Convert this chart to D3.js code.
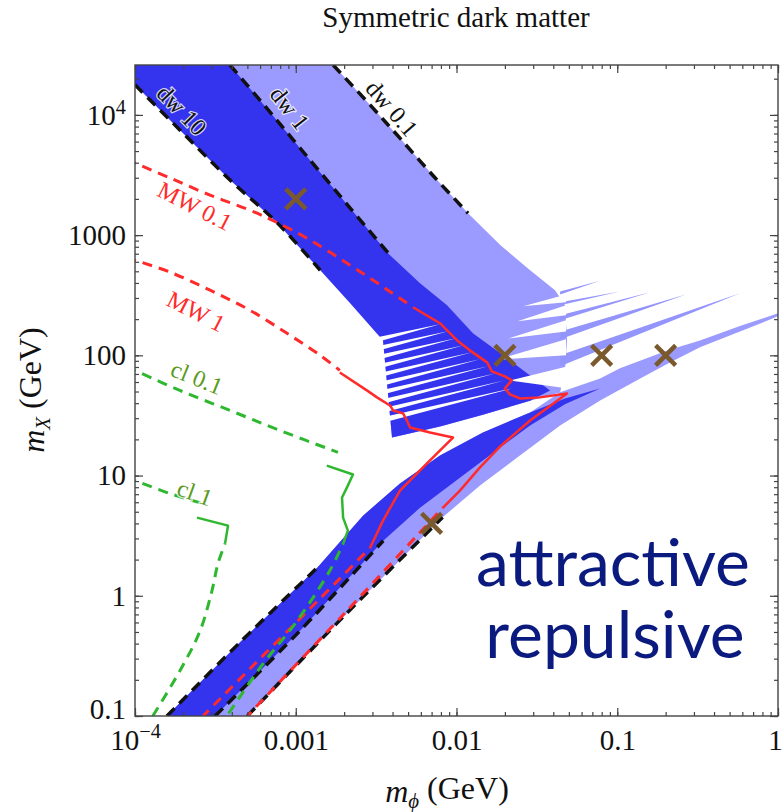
<!DOCTYPE html>
<html>
<head>
<meta charset="utf-8">
<script src="https://d3js.org/d3.v7.min.js"></script>
<style>
  body { margin: 0; background: #fff; }
</style>
</head>
<body>
<div id="chart"><svg width="782" height="812"></svg></div>
<script>
// all values are [m_phi (GeV), m_X (GeV)]
var xTicks = [1e-4, 1e-3, 1e-2, 0.1, 1];
var yTicks = [0.1, 1, 10, 100, 1000, 1e4];

// attractive branch (upper band)
var attrDw10 = [[1.0e-4,1.78e4],[1.9e-4,7.5e3],[3.9e-4,2.87e3],[7.6e-4,1.28e3],[1.42e-3,510]];
var attrDw1  = [[3.9e-4,2.6e4],[6.9e-4,1.06e4],[1.23e-3,4.2e3],[2.18e-3,1.68e3],[3.86e-3,680]];
var attrDw01 = [[1.71e-3,2.6e4],[2.9e-3,1.21e4],[4.45e-3,6.4e3],[7.35e-3,3.0e3],[1.18e-2,1.52e3]];
var attrDarkRight = [[5.93e-3,398],[8.73e-3,261],[1.27e-2,152],[1.95e-2,100],[2.87e-2,68],[3.82e-2,51]];
var attrDarkLower = [[2.87e-2,42],[1.46e-2,32],[7.9e-3,25.6],[3.97e-3,20.7],[3.49e-3,133],[2.18e-3,271]];
var attrLightRight = [[1.87e-2,826],[2.87e-2,511],[4.1e-2,348],[4.73e-2,261],[4.87e-2,133],[4.73e-2,75],[4.41e-2,49]];

// resonance streaks and the white gaps between them
var fanStreaks = [
  [[4.41e-2,339],[7.8e-2,418],[4.41e-2,320]],
  [[4.41e-2,276],[0.104,340],[4.41e-2,261]],
  [[4.41e-2,215],[0.16,335],[4.41e-2,196]],
  [[4.41e-2,158],[0.27,322],[4.41e-2,136]],
  [[4.41e-2,100],[0.58,329],[4.41e-2,81]]
];
var darkGaps = [
  [[3.0e-3,138.6],[7.89e-3,181.3],[3.0e-3,125.9]],
  [[3.0e-3,116.6],[8.86e-3,158.5],[3.0e-3,105.9]],
  [[3.0e-3,98.1],[9.93e-3,138.6],[3.0e-3,89.1]],
  [[3.0e-3,82.5],[1.11e-2,121.2],[3.0e-3,75.0]],
  [[3.0e-3,69.4],[1.25e-2,105.9],[3.0e-3,63.1]],
  [[3.0e-3,58.4],[1.40e-2,92.6],[3.0e-3,53.1]],
  [[3.0e-3,49.2],[1.57e-2,81.0],[3.0e-3,44.7]],
  [[3.0e-3,41.4],[1.76e-2,70.8],[3.0e-3,37.6]],
  [[3.0e-3,34.8],[1.98e-2,61.9],[3.0e-3,31.6]],
  [[3.0e-3,29.3],[2.21e-2,53.1],[3.0e-3,26.1]]
];
var lightGaps = [
  [[4.8e-2,320],[4.8e-2,276],[2.6e-2,256]],
  [[4.8e-2,261],[4.8e-2,215],[2.4e-2,192]],
  [[4.8e-2,196],[4.8e-2,158],[2.1e-2,138]],
  [[4.8e-2,136],[4.8e-2,100],[1.8e-2,92]],
  [[4.94e-2,81],[4.94e-2,53.1],[2.15e-2,61.9]]
];

// repulsive branch (lower band)
var repDw10 = [[1.58e-4,0.1],[4.5e-4,0.41],[1.36e-3,1.71]];
var repDw1  = [[3.15e-4,0.1],[1.06e-3,0.51],[3.5e-3,2.87]];
var repDw01 = [[5.0e-4,0.1],[2.0e-3,0.68],[8.2e-3,4.5]];
var repDarkUpper = [[2.62e-3,4.64],[4.45e-3,8.57],[7.89e-3,14.7],[1.46e-2,22.8],[2.87e-2,33.5],[4.73e-2,43.8],[7.82e-2,53]];
var repDarkLower = [[4.73e-2,39.1],[2.87e-2,26.1],[1.87e-2,17.1],[1.05e-2,9.6],[5.93e-3,5.4]];
var repLightLower = [[1.4e-2,8.26],[2.48e-2,14.7],[4.41e-2,26.1],[7.82e-2,42.2],[0.139,64.3],[0.207,85.7],[0.327,117],[0.58,158],[1.0,211]];
var tongueUpper = [[1.0,224],[0.58,175],[0.327,133],[0.207,110],[0.104,78],[7.82e-2,64.3],[4.41e-2,49.2]];

// Milky Way constraints (red)
var mw01Upper = [[1.0e-4,3.98e3],[1.65e-4,2.99e3],[2.93e-4,2.15e3],[5.19e-4,1.61e3],[7.6e-4,1.28e3],[1.23e-3,908],[2.18e-3,562],[3.59e-3,362],[5.36e-3,251]];
var mw01Wiggle = [[5.36e-3,251],[7.89e-3,185],[1.01e-2,133],[1.21e-2,110],[1.55e-2,87.4],[1.66e-2,73.6],[2.0e-2,66.8],[2.21e-2,61.9],[2.0e-2,53.1],[2.15e-2,47.3],[2.48e-2,43.8],[3.31e-2,44.7],[4.87e-2,48.2],[2.87e-2,28.7],[1.87e-2,17.5],[1.4e-2,11.7],[1.05e-2,7.5],[8.24e-3,5.41]];
var mw01Lower = [[8.24e-3,5.41],[2.0e-3,0.708],[5.0e-4,0.1]];
var mw1Upper = [[1.0e-4,619],[1.65e-4,492],[2.93e-4,348],[5.19e-4,237],[9.2e-4,147],[1.42e-3,100],[1.88e-3,75]];
var mw1Wiggle = [[1.88e-3,72],[2.77e-3,51.1],[3.2e-3,44.7],[3.86e-3,38.3],[4.03e-3,34.8],[4.65e-3,32.9],[4.92e-3,28.7],[5.14e-3,25.1],[6.84e-3,22.8],[9.51e-3,20.7],[6.55e-3,12.6],[4.45e-3,7.5],[3.49e-3,4.22],[2.9e-3,2.51]];
var mw1Lower = [[2.9e-3,2.51],[1.88e-3,1.39],[1.06e-3,0.643],[5.19e-4,0.247],[2.65e-4,0.1]];

// cluster constraints (green)
var cl01Upper = [[1.0e-4,75],[1.9e-4,51.1],[3.9e-4,34.8],[7.98e-4,23.7],[1.83e-3,15.6]];
var cl01Kink  = [[1.56e-3,12.1],[2.27e-3,10.2],[2.08e-3,7.94],[1.94e-3,6.56],[1.97e-3,4.47],[2.11e-3,3.48],[1.97e-3,2.71]];
var cl01Lower = [[1.97e-3,2.71],[1.63e-3,1.62],[1.02e-3,0.619],[6.25e-4,0.271],[3.73e-4,0.1]];
var cl1Upper = [[1.0e-4,9.09],[1.65e-4,7.08],[2.65e-4,5.84]];
var cl1Kink  = [[2.43e-4,4.47],[3.79e-4,3.83],[3.63e-4,2.71]];
var cl1Lower = [[3.63e-4,2.71],[3.28e-4,1.85],[3.01e-4,1.1],[2.54e-4,0.511],[1.9e-4,0.237],[1.29e-4,0.1]];

var benchmarks = [[1e-3,2000],[0.02,100],[0.08,100],[0.2,100],[0.007,4]];

var curveLabels = [
  {text: "dw 10",  at: [1.96e-4,1.1e4],  kind: "dw"},
  {text: "dw 1",   at: [9.2e-4,1.14e4],  kind: "dw"},
  {text: "dw 0.1", at: [3.97e-3,1.14e4], kind: "dw"},
  {text: "MW 0.1", at: [2.36e-4,1.75e3], kind: "mw"},
  {text: "MW 1",   at: [2.4e-4,233],     kind: "mw"},
  {text: "cl 0.1", at: [2.43e-4,65.6],   kind: "cl"},
  {text: "cl 1",   at: [2.36e-4,7.21],   kind: "cl"}
];
var labelAngle = {"dw 10": 46, "dw 1": 52, "dw 0.1": 49, "MW 0.1": 27, "MW 1": 27, "cl 0.1": 22, "cl 1": 20};

// ---- drawing ----
var svg = d3.select('#chart svg');
var serif = '"Liberation Serif", "DejaVu Serif", serif';
var L = 135, R = 778, T = 65, B = 716;

var x = d3.scaleLog().domain([1e-4, 1]).range([L, R]);
var y = d3.scaleLog().domain([0.1, 2.6e4]).range([B, T]);

var dark = "#3434ee", light = "#9a9aff";
var red = "#ff2b2b", green = "#2fb82f", black = "#111";

svg.append("defs").append("clipPath").attr("id", "plot")
  .append("rect").attr("x", L).attr("y", T).attr("width", R - L).attr("height", B - T);

var line = d3.line().x(function(d) { return x(d[0]) }).y(function(d) { return y(d[1]) });
var smooth = d3.line().curve(d3.curveCatmullRom).x(function(d) { return x(d[0]) }).y(function(d) { return y(d[1]) });
function poly(pts) { return line(pts) + "Z" }

var g = svg.append("g").attr("clip-path", "url(#plot)");

// regions
var attrLight = attrDw01.concat(attrLightRight, attrDarkLower.slice(0, 5), attrDw1.slice().reverse());
var attrDark = [[1e-4, 2.6e4]].concat(attrDw1, attrDarkRight, attrDarkLower, attrDw10.slice().reverse());
var repUpper = repDw10.concat(repDarkUpper);
var repDark = repUpper.concat(repDarkLower, repDw1.slice().reverse());
var repLight = repDw01.concat(repLightLower, tongueUpper, repUpper.slice(0, 8).reverse());

g.append("path").attr("d", poly(attrLight)).attr("fill", light);
g.append("path").attr("d", poly(repLight)).attr("fill", light);
g.selectAll("path.streak").data(fanStreaks).enter().append("path").attr("class", "streak")
  .attr("d", poly).attr("fill", "#9494fd");
g.append("path").attr("d", poly(attrDark)).attr("fill", dark);
g.append("path").attr("d", poly(repDark)).attr("fill", dark);
g.selectAll("path.gap").data(darkGaps.concat(lightGaps)).enter().append("path").attr("class", "gap")
  .attr("d", poly).attr("fill", "#fff");

// black dashed contours
[attrDw10, attrDw1, attrDw01, repDw10, repDw1, repDw01].forEach(function(c) {
  g.append("path").attr("d", smooth(c)).attr("fill", "none")
    .attr("stroke", black).attr("stroke-width", 3.5).attr("stroke-dasharray", "11,7");
});

function curve(pts, col, w, dash, gen) {
  g.append("path").attr("d", (gen || line)(pts)).attr("fill", "none")
    .attr("stroke", col).attr("stroke-width", w)
    .attr("stroke-dasharray", dash || null).attr("stroke-dashoffset", dash ? 9 : null)
    .attr("stroke-linejoin", "round");
}
// red curves
curve(mw01Upper, red, 3, "10,7", smooth);
curve(mw01Wiggle, red, 2.5);
curve(mw01Lower, red, 3, "10,7", smooth);
curve(mw1Upper, red, 3, "10,7", smooth);
curve(mw1Wiggle, red, 2.5);
curve(mw1Lower, red, 3, "10,7", smooth);

// green curves
curve(cl01Upper, green, 3, "10,7", smooth);
curve(cl01Kink, green, 2.5);
curve(cl01Lower, green, 3, "10,7", smooth);
curve(cl1Upper, green, 3, "10,7", smooth);
curve(cl1Kink, green, 2.5);
curve(cl1Lower, green, 3, "10,7", smooth);

// curve labels
var labelColor = {dw: "#111", mw: "#ff2b2b", cl: "#5a9a1a"};
g.selectAll("text.lab").data(curveLabels).enter().append("text").attr("class", "lab")
  .attr("transform", function(d) { return "translate(" + x(d.at[0]) + "," + y(d.at[1]) + ") rotate(" + labelAngle[d.text] + ")" })
  .attr("text-anchor", "middle").attr("dy", "0.35em")
  .style("font-family", serif).attr("font-size", 24)
  .attr("fill", function(d) { return labelColor[d.kind] })
  .attr("stroke", "rgba(255,255,255,0.8)").attr("stroke-width", 2.5).attr("paint-order", "stroke")
  .text(function(d) { return d.text });

// benchmark crosses
g.selectAll("path.bm").data(benchmarks).enter().append("path").attr("class", "bm")
  .attr("transform", function(d) { return "translate(" + x(d[0]) + "," + y(d[1]) + ")" })
  .attr("d", "M-10,-10L10,10M-10,10L10,-10")
  .attr("stroke", "#7a5a2c").attr("stroke-width", 4.5).attr("fill", "none");

// frame and ticks
var tickColor = "#444";
function addAxis(axisFn, scale, tx, ty, values, size, labels) {
  var a = axisFn(scale).tickValues(values).tickSize(size).tickSizeOuter(0);
  if (!labels) a.tickFormat("");
  var ax = svg.append("g").attr("transform", "translate(" + tx + "," + ty + ")").call(a);
  ax.select(".domain").remove();
  ax.selectAll("line").attr("stroke", tickColor).attr("stroke-width", 1.2);
  return ax;
}
var xMinor = x.ticks(), yMinor = y.ticks();
addAxis(d3.axisBottom, x, 0, B, xMinor, -4);
addAxis(d3.axisTop, x, 0, T, xMinor, -4);
addAxis(d3.axisLeft, y, L, 0, yMinor, -4);
addAxis(d3.axisRight, y, R, 0, yMinor, -4);
addAxis(d3.axisTop, x, 0, T, xTicks, -8);
addAxis(d3.axisRight, y, R, 0, yTicks, -8);

var xa = addAxis(d3.axisBottom, x, 0, B, xTicks, -8, true);
xa.selectAll("text").attr("font-size", 29).attr("fill", "#111").attr("dy", "0.95em")
  .style("font-family", serif)
  .each(function(d) {
    var t = d3.select(this);
    if (d === 1e-4) { t.text("10"); t.append("tspan").attr("dy", "-0.55em").attr("font-size", "0.7em").text("\u22124"); }
    else t.text(d3.format("~g")(d));
    if (d === 1) t.attr("x", -3);
  });
xa.selectAll(".tick text").attr("y", 6);

var ya = addAxis(d3.axisLeft, y, L, 0, yTicks, -8, true);
ya.selectAll("text").attr("font-size", 29).attr("fill", "#111").attr("x", -9)
  .style("font-family", serif)
  .each(function(d) {
    var t = d3.select(this);
    if (d === 1e4) { t.text("10"); t.append("tspan").attr("dy", "-0.55em").attr("font-size", "0.7em").text("4"); }
    else t.text(d3.format("~g")(d));
    if (d === 0.1) t.attr("dy", "0.1em");
  });

svg.append("rect").attr("x", L).attr("y", T).attr("width", R - L).attr("height", B - T)
  .attr("fill", "none").attr("stroke", "#444").attr("stroke-width", 1.4);

// titles
svg.append("text").attr("x", 456).attr("y", 27).attr("text-anchor", "middle")
  .style("font-family", serif).attr("font-size", 29).attr("fill", "#111").text("Symmetric dark matter");

var xt = svg.append("text").attr("x", 447).attr("y", 802).attr("text-anchor", "middle")
  .style("font-family", serif).attr("font-size", 32).attr("fill", "#111");
xt.append("tspan").attr("font-style", "italic").text("m");
xt.append("tspan").attr("font-style", "italic").attr("font-size", "0.65em").attr("dy", "0.3em").text("\u03d5");
xt.append("tspan").attr("dy", "-0.3em").text(" (GeV)");

var yt = svg.append("text").attr("transform", "translate(44,390) rotate(-90)").attr("text-anchor", "middle")
  .style("font-family", serif).attr("font-size", 32).attr("fill", "#111");
yt.append("tspan").attr("font-style", "italic").text("m");
yt.append("tspan").attr("font-style", "italic").attr("font-size", "0.65em").attr("dy", "0.3em").text("X");
yt.append("tspan").attr("dy", "-0.3em").text(" (GeV)");

// overlay words
svg.append("text").attr("x", 613).attr("y", 586).attr("text-anchor", "middle")
  .style("font-family", "Lato, 'Open Sans', sans-serif").attr("font-size", 66).attr("fill", "#0b1a7e").text("attractive");
svg.append("text").attr("x", 615).attr("y", 658).attr("text-anchor", "middle")
  .style("font-family", "Lato, 'Open Sans', sans-serif").attr("font-size", 66).attr("fill", "#0b1a7e").text("repulsive");
</script>
</body>
</html>
